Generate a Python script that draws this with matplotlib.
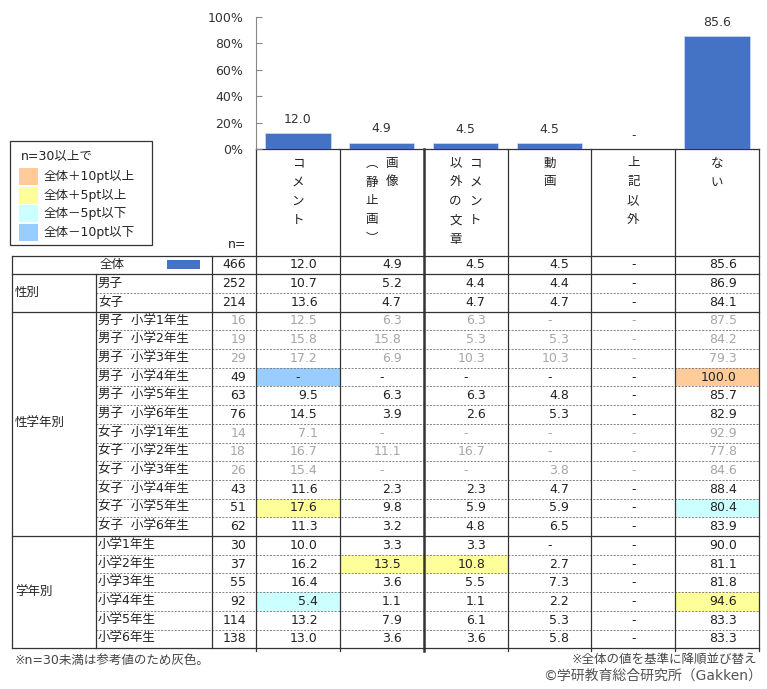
import numpy as np
import matplotlib
matplotlib.use("Agg")
import matplotlib.pyplot as plt
from matplotlib.patches import Rectangle

plt.rcParams["font.family"] = ["DejaVu Sans", "Noto Sans CJK JP"]

# ---- data (None = "-") ---------------------------------------------------
categories = ["コメント", "画像（静止画）", "コメント以外の文章", "動画", "上記以外", "ない"]
# vertical header text, right column first
header_cols = [["コメント"], ["画像", "︵静止画︶"], ["コメント", "以外の文章"],
               ["動画"], ["上記以外"], ["ない"]]

total_n = 466
total_vals = [12.0, 4.9, 4.5, 4.5, None, 85.6]

groups = ["性別", "性学年別", "学年別"]
group_sizes = [2, 12, 6]

row_labels = [
    "男子", "女子",
    "男子  小学1年生", "男子  小学2年生", "男子  小学3年生",
    "男子  小学4年生", "男子  小学5年生", "男子  小学6年生",
    "女子  小学1年生", "女子  小学2年生", "女子  小学3年生",
    "女子  小学4年生", "女子  小学5年生", "女子  小学6年生",
    "小学1年生", "小学2年生", "小学3年生", "小学4年生", "小学5年生", "小学6年生",
]
row_n = [252, 214, 16, 19, 29, 49, 63, 76, 14, 18, 26, 43, 51, 62,
         30, 37, 55, 92, 114, 138]
row_vals = [
    [10.7, 5.2, 4.4, 4.4, None, 86.9],
    [13.6, 4.7, 4.7, 4.7, None, 84.1],
    [12.5, 6.3, 6.3, None, None, 87.5],
    [15.8, 15.8, 5.3, 5.3, None, 84.2],
    [17.2, 6.9, 10.3, 10.3, None, 79.3],
    [None, None, None, None, None, 100.0],
    [9.5, 6.3, 6.3, 4.8, None, 85.7],
    [14.5, 3.9, 2.6, 5.3, None, 82.9],
    [7.1, None, None, None, None, 92.9],
    [16.7, 11.1, 16.7, None, None, 77.8],
    [15.4, None, None, 3.8, None, 84.6],
    [11.6, 2.3, 2.3, 4.7, None, 88.4],
    [17.6, 9.8, 5.9, 5.9, None, 80.4],
    [11.3, 3.2, 4.8, 6.5, None, 83.9],
    [10.0, 3.3, 3.3, None, None, 90.0],
    [16.2, 13.5, 10.8, 2.7, None, 81.1],
    [16.4, 3.6, 5.5, 7.3, None, 81.8],
    [5.4, 1.1, 1.1, 2.2, None, 94.6],
    [13.2, 7.9, 6.1, 5.3, None, 83.3],
    [13.0, 3.6, 3.6, 5.8, None, 83.3],
]

legend_labels = ["全体＋10pt以上", "全体＋5pt以上", "全体－5pt以下", "全体－10pt以下"]
legend_colors = ["#FFCC99", "#FFFF99", "#CCFFFF", "#99CCFF"]

BAR = "#4472C4"
LINE = "#333333"
TXT = "#222222"
GRAY = "#A6A6A6"
FS = 9


def cell_color(v, base):
    d = (v or 0.0) - (base or 0.0)
    if d >= 10:
        return legend_colors[0]
    if d >= 5:
        return legend_colors[1]
    if d <= -10:
        return legend_colors[3]
    if d <= -5:
        return legend_colors[2]
    return None


W, H = 767, 689
fig = plt.figure(figsize=(W / 100, H / 100), dpi=100)
ax = fig.add_axes([0, 0, 1, 1])
ax.set_xlim(0, W)
ax.set_ylim(H, 0)
ax.axis("off")

# layout (pixels)
x_left, x_lab2, x_n, x_dat, x_right = 12, 96, 212, 256, 759
col_edges = np.linspace(x_dat, x_right, len(categories) + 1)
y_head, y_top, row_h = 149, 255.5, 18.7
n_rows = 1 + len(row_labels)
y_bot = y_top + n_rows * row_h


def row_y(i):
    return y_top + (i + 0.5) * row_h


all_n = [total_n] + row_n
all_vals = [total_vals] + row_vals

# highlighted cells
for i, (n, vals) in enumerate(zip(all_n, all_vals)):
    if i == 0 or n < 30:
        continue
    for j, v in enumerate(vals):
        c = cell_color(v, total_vals[j])
        if c:
            ax.add_patch(Rectangle((col_edges[j], y_top + i * row_h), col_edges[j + 1] - col_edges[j],
                                   row_h, facecolor=c, edgecolor="none", zorder=1))

# numbers
for i, (n, vals) in enumerate(zip(all_n, all_vals)):
    y = row_y(i)
    col = GRAY if n < 30 else TXT
    ax.text(x_dat - 10, y, f"{n}", ha="right", va="center", fontsize=FS, color=col, zorder=3)
    for j, v in enumerate(vals):
        if v is None:
            ax.text((col_edges[j] + col_edges[j + 1]) / 2, y, "-", ha="center", va="center",
                    fontsize=FS, color=col, zorder=3)
        else:
            ax.text(col_edges[j + 1] - 22, y, f"{v:.1f}", ha="right", va="center",
                    fontsize=FS, color=col, zorder=3)

# row labels
ax.text(x_lab2 + 4, row_y(0), "全体", ha="left", va="center", fontsize=FS, color=TXT)
ax.add_patch(Rectangle((167, row_y(0) - 4.5), 33, 9, facecolor=BAR, edgecolor="none"))
for i, lab in enumerate(row_labels):
    ax.text(x_lab2 + 2, row_y(i + 1), lab, ha="left", va="center", fontsize=FS, color=TXT)

start = 1
for g, size in zip(groups, group_sizes):
    ymid = y_top + (start + size / 2) * row_h
    ax.text(x_left + 3, ymid, g, ha="left", va="center", fontsize=FS, color=TXT)
    # dashed lines inside group
    for k in range(1, size):
        yy = y_top + (start + k) * row_h
        ax.plot([x_lab2, x_right], [yy, yy], color="#7F7F7F", lw=0.7,
                linestyle=(0, (2, 1.5)), zorder=2)
    start += size
    yy = y_top + start * row_h
    ax.plot([x_left, x_right], [yy, yy], color=LINE, lw=0.9, zorder=2)

# solid table lines
ax.plot([x_left, x_right], [y_top, y_top], color=LINE, lw=0.9, zorder=2)
ax.plot([x_left, x_right], [y_top + row_h] * 2, color=LINE, lw=0.9, zorder=2)
ax.plot([x_dat, x_right], [y_head, y_head], color=LINE, lw=0.9, zorder=2)
ax.plot([x_left, x_left], [y_top, y_bot], color=LINE, lw=0.9, zorder=2)
ax.plot([x_lab2, x_lab2], [y_top + row_h, y_bot], color=LINE, lw=0.9, zorder=2)
ax.plot([x_n, x_n], [y_top, y_bot], color=LINE, lw=0.9, zorder=2)
for j, xe in enumerate(col_edges):
    ax.plot([xe, xe], [y_head, y_bot + 3], color=LINE, lw=1.8 if j == 2 else 0.9, zorder=2)

# vertical header labels
char_step = 19
for j, cols in enumerate(header_cols):
    xc = (col_edges[j] + col_edges[j + 1]) / 2
    offs = [0] if len(cols) == 1 else [10, -10]
    for text, dx in zip(cols, offs):
        for k, ch in enumerate(text):
            ax.text(xc + dx, 163 + k * char_step, ch, ha="center", va="center",
                    fontsize=FS, color=TXT)

ax.text(x_dat - 10, 244, "n=", ha="right", va="center", fontsize=FS, color=TXT)

# legend box
ax.add_patch(Rectangle((10, 141), 142, 104, facecolor="white", edgecolor=LINE, lw=0.9))
ax.text(21, 156, "n=30以上で", ha="left", va="center", fontsize=FS, color=TXT)
for k, (lab, c) in enumerate(zip(legend_labels, legend_colors)):
    yy = 168 + k * 18.6
    ax.add_patch(Rectangle((19, yy), 19, 17, facecolor=c, edgecolor="none"))
    ax.text(44, yy + 8.5, lab, ha="left", va="center", fontsize=FS, color=TXT)

# footnotes
ax.text(15, 660, "※n=30未満は参考値のため灰色。", ha="left", va="center", fontsize=FS, color="#444444")
ax.text(757, 659, "※全体の値を基準に降順並び替え", ha="right", va="center", fontsize=FS, color="#444444")
ax.text(762, 676, "©学研教育総合研究所（Gakken）", ha="right", va="center", fontsize=FS + 1,
        color="#555555")

# ---- bar chart ------------------------------------------------------------
axb = fig.add_axes([x_dat / W, 1 - y_head / H, (x_right - x_dat) / W, (y_head - 17) / H])
axb.patch.set_alpha(0)
x = np.arange(len(categories))
heights = [v if v is not None else 0 for v in total_vals]
axb.bar(x, heights, width=0.78, color=BAR, edgecolor="#C9D6EE", lw=0.6)
for xi, v in zip(x, total_vals):
    axb.annotate("-" if v is None else f"{v:.1f}", (xi, v or 0), xytext=(0, 7.5),
                 textcoords="offset points", ha="center", va="baseline",
                 fontsize=FS, color="#333333")
axb.set_xlim(-0.5, len(categories) - 0.5)
axb.set_ylim(0, 100)
axb.set_yticks(np.arange(0, 101, 20))
axb.set_yticklabels([f"{t}%" for t in range(0, 101, 20)], fontsize=FS, color="#333333")
axb.set_xticks([])
for s in ["top", "right", "bottom"]:
    axb.spines[s].set_visible(False)
axb.spines["left"].set_color("#868686")
axb.tick_params(axis="y", direction="in", length=4, color="#868686", pad=9)

fig.savefig("out.png", dpi=100)
